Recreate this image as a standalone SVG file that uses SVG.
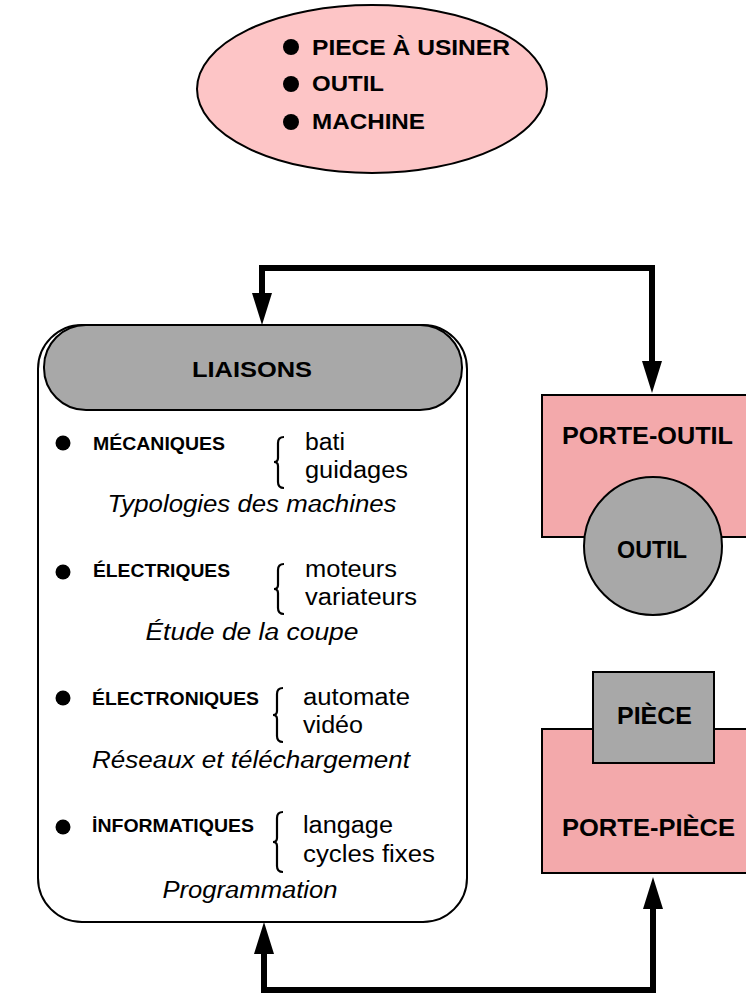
<svg xmlns="http://www.w3.org/2000/svg" width="746" height="998" viewBox="0 0 746 998">
<style>
  .b{font-family:"Liberation Sans",Arial,sans-serif;font-weight:bold;fill:#000}
  .n{font-family:"Liberation Sans",Arial,sans-serif;font-size:23px;fill:#000}
  .i{font-family:"Liberation Sans",Arial,sans-serif;font-size:23px;font-style:italic;fill:#000}
  .lbl{font-size:18px}
  .brace{fill:none;stroke:#000;stroke-width:2.2}
  .pink{fill:#f3a9ab;stroke:#000;stroke-width:2}
  .gray{fill:#a8a8a8;stroke:#000;stroke-width:2}
  .conn{fill:none;stroke:#000;stroke-width:6;stroke-linejoin:miter}
</style>
<defs>
  <marker id="ah" viewBox="0 0 32 20" refX="2" refY="10" markerWidth="32" markerHeight="20" markerUnits="userSpaceOnUse" orient="auto-start-reverse">
    <path d="M0,0 L32,10 L0,20 Z" fill="#000"/>
  </marker>
</defs>
<rect width="746" height="998" fill="#fff"/>

<g id="title">
  <ellipse cx="372" cy="89" rx="175" ry="84" fill="#fdc5c6" stroke="#000" stroke-width="2"/>
  <circle cx="291" cy="47" r="8"/>
  <circle cx="291" cy="84" r="8"/>
  <circle cx="291" cy="122" r="8"/>
  <text class="b" x="312" y="55" font-size="22" textLength="198" lengthAdjust="spacingAndGlyphs">PIECE À USINER</text>
  <text class="b" x="312" y="91" font-size="22" textLength="72" lengthAdjust="spacingAndGlyphs">OUTIL</text>
  <text class="b" x="312" y="129" font-size="22" textLength="113" lengthAdjust="spacingAndGlyphs">MACHINE</text>
</g>

<g id="liaisons">
  <rect x="38" y="325" width="429" height="597" rx="44" ry="44" fill="#fff" stroke="#000" stroke-width="2"/>
  <rect x="44" y="325" width="418" height="85" rx="42" ry="42" class="gray"/>
  <text class="b" x="252" y="377" font-size="22" text-anchor="middle" textLength="120" lengthAdjust="spacingAndGlyphs">LIAISONS</text>

  <circle cx="63" cy="443" r="7.5"/>
  <text class="b lbl" x="93" y="450" textLength="132" lengthAdjust="spacingAndGlyphs">MÉCANIQUES</text>
  <path class="brace" d="M284,437 Q278,437 278,443 L278,458 Q278,462 274,462 Q278,462 278,466 L278,482 Q278,488 284,488"/>
  <text class="n" x="305" y="450" textLength="40" lengthAdjust="spacingAndGlyphs">bati</text>
  <text class="n" x="305" y="478" textLength="103" lengthAdjust="spacingAndGlyphs">guidages</text>
  <text class="i" x="252" y="512" text-anchor="middle" textLength="289" lengthAdjust="spacingAndGlyphs">Typologies des machines</text>

  <circle cx="63" cy="572" r="7.5"/>
  <text class="b lbl" x="93" y="577" textLength="137" lengthAdjust="spacingAndGlyphs">ÉLECTRIQUES</text>
  <path class="brace" d="M284,564 Q278,564 278,570 L278,585 Q278,589 274,589 Q278,589 278,593 L278,608 Q278,614 284,614"/>
  <text class="n" x="305" y="577" textLength="92" lengthAdjust="spacingAndGlyphs">moteurs</text>
  <text class="n" x="305" y="605" textLength="112" lengthAdjust="spacingAndGlyphs">variateurs</text>
  <text class="i" x="252" y="640" text-anchor="middle" textLength="213" lengthAdjust="spacingAndGlyphs">Étude de la coupe</text>

  <circle cx="63" cy="698" r="7.5"/>
  <text class="b lbl" x="92" y="705" textLength="167" lengthAdjust="spacingAndGlyphs">ÉLECTRONIQUES</text>
  <path class="brace" d="M283,688 Q277,688 277,694 L277,711 Q277,715 273,715 Q277,715 277,719 L277,736 Q277,742 283,742"/>
  <text class="n" x="303" y="705" textLength="107" lengthAdjust="spacingAndGlyphs">automate</text>
  <text class="n" x="303" y="733" textLength="60" lengthAdjust="spacingAndGlyphs">vidéo</text>
  <text class="i" x="92" y="768" textLength="318" lengthAdjust="spacingAndGlyphs">Réseaux et téléchargement</text>

  <circle cx="63" cy="827" r="7.5"/>
  <text class="b lbl" x="92" y="832" textLength="162" lengthAdjust="spacingAndGlyphs">İNFORMATIQUES</text>
  <path class="brace" d="M283,812 Q277,812 277,818 L277,838 Q277,842 273,842 Q277,842 277,846 L277,866 Q277,872 283,872"/>
  <text class="n" x="303" y="833" textLength="90" lengthAdjust="spacingAndGlyphs">langage</text>
  <text class="n" x="303" y="862" textLength="132" lengthAdjust="spacingAndGlyphs">cycles fixes</text>
  <text class="i" x="250" y="898" text-anchor="middle" textLength="175" lengthAdjust="spacingAndGlyphs">Programmation</text>
</g>

<g id="porte-outil">
  <rect x="542" y="395" width="220" height="142" class="pink"/>
  <text class="b" x="562" y="444" font-size="24" textLength="171" lengthAdjust="spacingAndGlyphs">PORTE-OUTIL</text>
</g>
<g id="outil">
  <circle cx="653" cy="546" r="69" class="gray"/>
  <text class="b" x="617" y="558" font-size="23" textLength="70" lengthAdjust="spacingAndGlyphs">OUTIL</text>
</g>

<g id="porte-piece">
  <rect x="542" y="729" width="220" height="144" class="pink"/>
  <text class="b" x="562" y="836" font-size="24" textLength="173" lengthAdjust="spacingAndGlyphs">PORTE-PIÈCE</text>
</g>
<g id="piece">
  <rect x="593" y="672" width="121" height="91" class="gray"/>
  <text class="b" x="617" y="724" font-size="23" textLength="75" lengthAdjust="spacingAndGlyphs">PIÈCE</text>
</g>

<g id="connectors">
  <path class="conn" d="M262,295 L262,268 L652,268 L652,363" marker-start="url(#ah)" marker-end="url(#ah)"/>
  <path class="conn" d="M264,952 L264,990 L653,990 L653,907" marker-start="url(#ah)" marker-end="url(#ah)"/>
</g>
</svg>
